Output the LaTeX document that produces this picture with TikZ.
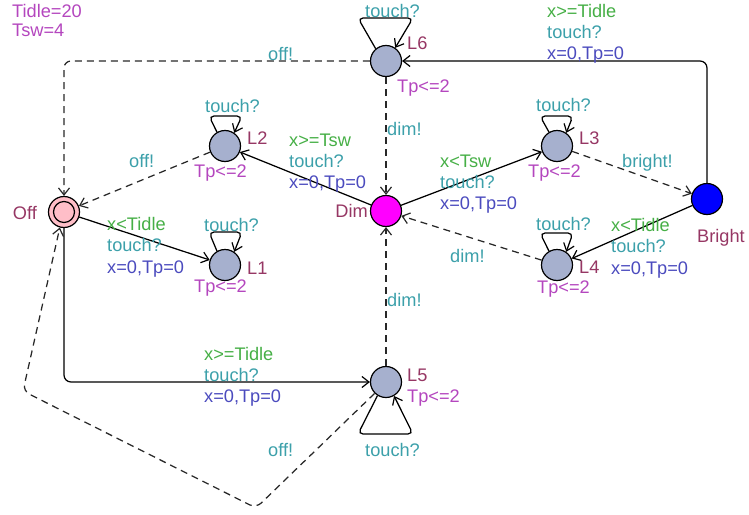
\documentclass[tikz,border=0pt]{standalone}
\usepackage{fontspec}
\setmainfont{Liberation Sans}
\usetikzlibrary{arrows.meta}
\definecolor{cname}{RGB}{150,55,100}
\definecolor{cinv}{RGB}{180,70,190}
\definecolor{csync}{RGB}{60,160,170}
\definecolor{cguard}{RGB}{70,175,70}
\definecolor{cupd}{RGB}{75,75,190}
\definecolor{locfill}{RGB}{166,176,206}
\definecolor{offfill}{RGB}{255,190,200}
\definecolor{dimfill}{RGB}{255,0,255}
\definecolor{brightfill}{RGB}{0,0,255}
\definecolor{dashcol}{RGB}{40,40,40}
\begin{document}
\begin{tikzpicture}[x=1pt,y=-1pt,
  loc/.style={circle,draw,line width=1.2pt,minimum size=31pt,inner sep=0pt,fill=locfill},
  lbl/.style={anchor=base west,inner sep=0pt,font=\fontsize{18.2}{21}\selectfont},
  rlbl/.style={lbl,anchor=base east},
  nm/.style={lbl,text=cname},
  inv/.style={lbl,text=cinv},
  syn/.style={lbl,text=csync},
  grd/.style={lbl,text=cguard},
  upd/.style={lbl,text=cupd},
  trans/.style={line width=1.25pt,-{Straight Barb[length=7pt,width=11pt,line width=1.2pt]}},
  dtrans/.style={trans,draw=dashcol,dash pattern=on 7pt off 5pt},
  rc/.style={rounded corners=7pt}
]
\useasboundingbox (0,0) rectangle (749,514);

% locations
\node[loc,fill=offfill] (Off) at (64,212) {};
\draw[line width=1.2pt] (Off.center) circle (10.5pt);
\node[loc] (L2) at (225,146) {};
\node[loc] (L1) at (225,265) {};
\node[loc,fill=dimfill] (Dim) at (386,211) {};
\node[loc] (L3) at (557,146) {};
\node[loc] (L4) at (557,265) {};
\node[loc,fill=brightfill] (Bright) at (707,199) {};
\node[loc] (L6) at (386,61) {};
\node[loc] (L5) at (386,382) {};

% corner coordinates
\coordinate (cBR) at (707,61);
\coordinate (cOT) at (64,61);
\coordinate (cOB) at (64,382);
\coordinate (cB1) at (256,508);
\coordinate (cB2) at (23,391);

% transitions
\draw[trans,rc] (Bright.north) -- (cBR) -- (L6.east);
\draw[dtrans,rc] (L6.west) -- (cOT) -- (Off.north);
\draw[dtrans] (L6.south) -- (Dim.north);
\draw[dtrans] (L5.north) -- (Dim.south);
\draw[trans,rc] (Off.south) -- (cOB) -- (L5.west);
\draw[dtrans,rc] (L5.225) -- (cB1) -- (cB2) -- (Off.255);
\draw[trans] (Off) -- (L1);
\draw[dtrans] (L2) -- (Off);
\draw[trans] (Dim) -- (L2);
\draw[trans] (Dim) -- (L3);
\draw[dtrans] (L3) -- (Bright);
\draw[trans] (Bright) -- (L4);
\draw[dtrans] (L4) -- (Dim);

% self loops
\draw[trans,rounded corners=5pt] (L6.130) -- (358,18) -- (413,18) -- (L6.55);
\draw[trans,rounded corners=5pt] (L2.120) -- (209,116) -- (242,116) -- (L2.55);
\draw[trans,rounded corners=5pt] (L1.120) -- (209,232) -- (242,232) -- (L1.55);
\draw[trans,rounded corners=5pt] (L3.120) -- (540,116) -- (573,116) -- (L3.55);
\draw[trans,rounded corners=5pt] (L4.120) -- (540,233) -- (573,233) -- (L4.55);
\draw[trans,rounded corners=5pt] (L5.238) -- (358,434) -- (413,434) -- (L5.300);

% declarations
\node[inv] (d1) at (12,17) {Tidle=20};
\node[inv] (d2) at (12,36) {Tsw=4};

% location names and invariants
\node[rlbl,text=cname] (nOff) at (37,219) {Off};
\node[nm] (nL2) at (247,144) {L2};
\node[inv] (iL2) at (194,177) {Tp<=2};
\node[nm] (nL1) at (247,274) {L1};
\node[inv] (iL1) at (194,292) {Tp<=2};
\node[rlbl,text=cname] (nDim) at (368,217) {Dim};
\node[nm] (nL3) at (579,144) {L3};
\node[inv] (iL3) at (528,177) {Tp<=2};
\node[nm] (nL4) at (579,273) {L4};
\node[inv] (iL4) at (537,293) {Tp<=2};
\node[nm] (nBright) at (697,242) {Bright};
\node[nm] (nL6) at (407,49) {L6};
\node[inv] (iL6) at (397,92) {Tp<=2};
\node[nm] (nL5) at (407,381) {L5};
\node[inv] (iL5) at (407,402) {Tp<=2};

% loop labels
\node[syn] (sL6) at (365,17) {touch?};
\node[syn] (sL2) at (205,112) {touch?};
\node[syn] (sL1) at (204,231) {touch?};
\node[syn] (sL3) at (536,111) {touch?};
\node[syn] (sL4) at (536,230) {touch?};
\node[syn] (sL5) at (365,456) {touch?};

% Bright -> L6
\node[grd] (g1) at (547,17) {x>=Tidle};
\node[syn] (s1) at (547,38) {touch?};
\node[upd] (u1) at (547,59) {x=0,Tp=0};
% L6 -> Off
\node[syn] (s2) at (268,60) {off!};
% L6 -> Dim
\node[syn] (s3) at (387,135) {dim!};
% L2 -> Off
\node[syn] (s4) at (129,167) {off!};
% Dim -> L2
\node[grd] (g5) at (289,146) {x>=Tsw};
\node[syn] (s5) at (289,167) {touch?};
\node[upd] (u5) at (289,188) {x=0,Tp=0};
% Off -> L1
\node[grd] (g6) at (107,230) {x<Tidle};
\node[syn] (s6) at (107,251) {touch?};
\node[upd] (u6) at (107,273) {x=0,Tp=0};
% Dim -> L3
\node[grd] (g7) at (440,167) {x<Tsw};
\node[syn] (s7) at (440,188) {touch?};
\node[upd] (u7) at (440,209) {x=0,Tp=0};
% L3 -> Bright
\node[syn] (s8) at (622,167) {bright!};
% Bright -> L4
\node[grd] (g9) at (611,231) {x<Tidle};
\node[syn] (s9) at (611,252) {touch?};
\node[upd] (u9) at (611,274) {x=0,Tp=0};
% L4 -> Dim
\node[syn] (s10) at (450,262) {dim!};
% L5 -> Dim
\node[syn] (s11) at (387,306) {dim!};
% Off -> L5
\node[grd] (g12) at (204,360) {x>=Tidle};
\node[syn] (s12) at (204,381) {touch?};
\node[upd] (u12) at (204,402) {x=0,Tp=0};
% L5 -> Off
\node[syn] (s13) at (268,456) {off!};
\end{tikzpicture}
\end{document}
